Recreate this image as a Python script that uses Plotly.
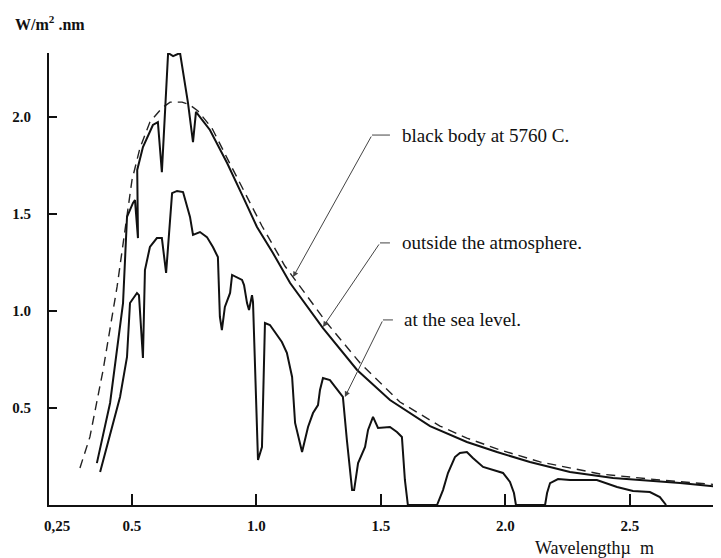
import plotly.graph_objects as go

# ---- data (wavelength in micrometres, irradiance in W/m2.nm) ----
bb_wl = [0.291, 0.331, 0.384, 0.440, 0.472, 0.500, 0.532, 0.572, 0.620, 0.653,
         0.701, 0.733, 0.765, 0.821, 0.886, 0.954, 1.022, 1.114, 1.283, 1.416,
         1.576, 1.737, 1.845, 1.978, 2.139, 2.380, 2.620, 2.866]
bb_val = [0.191, 0.351, 0.696, 1.124, 1.418, 1.675, 1.840, 1.974, 2.046, 2.077,
          2.077, 2.062, 2.031, 1.943, 1.778, 1.608, 1.438, 1.232, 0.938, 0.732,
          0.531, 0.407, 0.345, 0.284, 0.222, 0.160, 0.129, 0.103]

out_wl = [0.359, 0.412, 0.464, 0.480, 0.504, 0.512, 0.524, 0.521, 0.544, 0.584,
          0.604, 0.620, 0.645, 0.665, 0.693, 0.725, 0.745, 0.757, 0.813, 0.882,
          0.946, 1.002, 1.066, 1.135, 1.267, 1.404, 1.536, 1.697, 1.845, 1.966,
          2.098, 2.259, 2.432, 2.701, 2.866]
out_val = [0.216, 0.526, 1.041, 1.485, 1.557, 1.572, 1.376, 1.727, 1.845, 1.959,
           1.974, 1.716, 2.330, 2.314, 2.330, 2.072, 1.871, 2.026, 1.933, 1.763,
           1.588, 1.433, 1.299, 1.144, 0.912, 0.696, 0.541, 0.407, 0.325, 0.273,
           0.222, 0.170, 0.139, 0.113, 0.093]

sea_wl = [0.372, 0.412, 0.452, 0.480, 0.492, 0.520, 0.528, 0.544, 0.552, 0.572,
          0.600, 0.620, 0.637, 0.661, 0.681, 0.705, 0.733, 0.745, 0.773, 0.801,
          0.825, 0.845, 0.853, 0.861, 0.873, 0.894, 0.902, 0.942, 0.950, 0.962,
          0.970, 0.982, 0.986, 1.006, 1.022, 1.034, 1.054, 1.102, 1.122, 1.143,
          1.155, 1.183, 1.207, 1.227, 1.247, 1.255, 1.267, 1.295, 1.327, 1.347,
          1.363, 1.384, 1.392, 1.408, 1.436, 1.448, 1.468, 1.488, 1.536, 1.564,
          1.584, 1.596, 1.608, 1.725, 1.749, 1.769, 1.797, 1.817, 1.845, 1.869,
          1.910, 1.966, 1.990, 2.018, 2.034, 2.042, 2.159, 2.167, 2.179, 2.211,
          2.259, 2.367, 2.448, 2.512, 2.580, 2.620, 2.645]
sea_val = [0.170, 0.371, 0.557, 0.763, 1.041, 1.093, 1.082, 0.758, 1.211, 1.330,
           1.376, 1.376, 1.196, 1.608, 1.619, 1.613, 1.485, 1.392, 1.407, 1.381,
           1.330, 1.278, 0.969, 0.902, 1.021, 1.093, 1.186, 1.160, 1.134, 1.041,
           1.005, 1.082, 1.046, 0.232, 0.299, 0.938, 0.928, 0.840, 0.784, 0.660,
           0.423, 0.273, 0.402, 0.474, 0.515, 0.593, 0.655, 0.644, 0.593, 0.557,
           0.335, 0.077, 0.077, 0.216, 0.299, 0.387, 0.454, 0.397, 0.402, 0.376,
           0.351, 0.129, 0.0, 0.0, 0.077, 0.165, 0.247, 0.268, 0.273, 0.242,
           0.196, 0.175, 0.165, 0.119, 0.062, 0.0, 0.0, 0.062, 0.113, 0.134,
           0.129, 0.129, 0.093, 0.072, 0.067, 0.041, 0.0]

x_ticks = [0.5, 1.0, 1.5, 2.0, 2.5]
x_ticktext = ["0.5", "1.0", "1.5", "2.0", "2.5"]
y_ticks = [0.5, 1.0, 1.5, 2.0]
y_ticktext = ["0.5", "1.0", "1.5", "2.0"]

labels = ["black body at 5760 C.", "outside the atmosphere.", "at the sea level."]
label_tip_x = [1.147, 1.267, 1.355]
label_tip_y = [1.175, 0.918, 0.557]
label_corner_x = [1.464, 1.496, 1.508]
label_corner_y = [1.907, 1.351, 0.954]
label_end_x = [1.536, 1.536, 1.548]
label_text_x = [1.576, 1.576, 1.584]

FONT = "Liberation Serif, Times New Roman, serif"

fig = go.Figure()
fig.add_trace(go.Scatter(x=bb_wl, y=bb_val, mode="lines", name=labels[0],
                         line=dict(color="#222", width=1.4, dash="9px,6px"),
                         hoverinfo="skip"))
fig.add_trace(go.Scatter(x=out_wl, y=out_val, mode="lines", name=labels[1],
                         line=dict(color="#111", width=2), hoverinfo="skip"))
fig.add_trace(go.Scatter(x=sea_wl, y=sea_val, mode="lines", name=labels[2],
                         line=dict(color="#111", width=2), hoverinfo="skip"))

annotations = []
shapes = []
for i, txt in enumerate(labels):
    annotations.append(dict(x=label_tip_x[i], y=label_tip_y[i], xref="x", yref="y",
                            ax=label_corner_x[i], ay=label_corner_y[i],
                            axref="x", ayref="y", text="", showarrow=True,
                            arrowhead=2, arrowsize=1.1, arrowwidth=1,
                            arrowcolor="#444"))
    shapes.append(dict(type="line", xref="x", yref="y",
                       x0=label_corner_x[i], y0=label_corner_y[i],
                       x1=label_end_x[i], y1=label_corner_y[i],
                       line=dict(color="#444", width=1)))
    annotations.append(dict(x=label_text_x[i], y=label_corner_y[i], xref="x", yref="y",
                            text=txt, showarrow=False, xanchor="left", yanchor="middle",
                            font=dict(family=FONT, size=19, color="#111")))

# axis titles and the "0,25" origin label
annotations.append(dict(x=-0.054, y=1.066, xref="paper", yref="paper",
                        text="<b>W/m<sup>2</sup> .nm</b>", showarrow=False,
                        xanchor="left", yanchor="middle",
                        font=dict(family=FONT, size=16, color="#111")))
annotations.append(dict(x=0.72, y=-0.095, xref="paper", yref="paper",
                        text="Wavelength\u00b5  m", showarrow=False,
                        xanchor="left", yanchor="middle",
                        font=dict(family=FONT, size=18, color="#111")))
annotations.append(dict(x=0.012, y=-0.0465, xref="paper", yref="paper",
                        text="<b>0,25</b>", showarrow=False,
                        xanchor="center", yanchor="middle",
                        font=dict(family=FONT, size=15, color="#111")))

# the page body has an 8px margin, so the figure is 8px smaller and shifted
fig.update_layout(
    width=713, height=550,
    margin=dict(l=41, r=0, t=45, b=53, autoexpand=False),
    paper_bgcolor="white", plot_bgcolor="white",
    showlegend=False,
    annotations=annotations, shapes=shapes,
    xaxis=dict(range=[0.1667, 2.8655], showgrid=False, zeroline=False,
               showline=True, linecolor="#111", linewidth=2,
               ticks="inside", ticklen=11, tickwidth=1.5, tickcolor="#111",
               tickvals=x_ticks, ticktext=["<b>%s</b>" % t for t in x_ticktext],
               tickfont=dict(family=FONT, size=15, color="#111"),
               ticklabelstandoff=6, automargin=False),
    yaxis=dict(range=[0, 2.33], showgrid=False, zeroline=False,
               showline=True, linecolor="#111", linewidth=2,
               ticks="inside", ticklen=8, tickwidth=1.5, tickcolor="#111",
               tickvals=y_ticks, ticktext=["<b>%s</b>" % t for t in y_ticktext],
               tickfont=dict(family=FONT, size=15, color="#111"),
               ticklabelstandoff=13, automargin=False),
)

fig.write_html("out.html")
